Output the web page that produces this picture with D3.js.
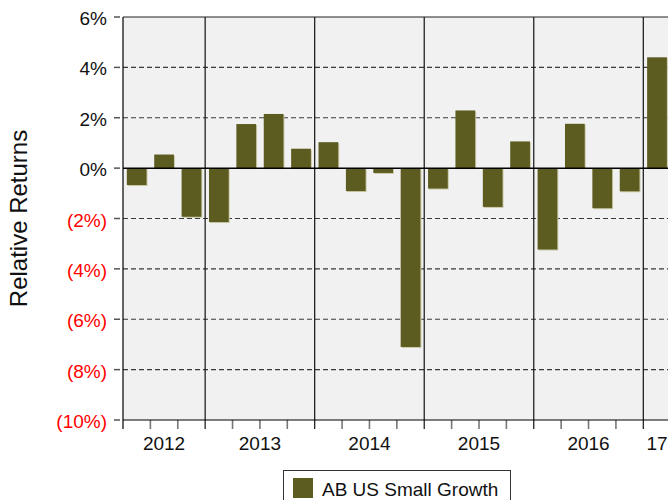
<!DOCTYPE html>
<html>
<head>
<meta charset="utf-8">
<script src="https://cdn.jsdelivr.net/npm/d3@7"></script>
<style>
  html, body { margin: 0; padding: 0; background: #fff; }
  svg { display: block; font-family: "Liberation Sans", Arial, sans-serif; }
</style>
</head>
<body>
<svg id="chart" width="668" height="500"></svg>
<script>
// Quarterly relative returns, AB US Small Growth
const quarters = [
  "2012 Q2", "2012 Q3", "2012 Q4",
  "2013 Q1", "2013 Q2", "2013 Q3", "2013 Q4",
  "2014 Q1", "2014 Q2", "2014 Q3", "2014 Q4",
  "2015 Q1", "2015 Q2", "2015 Q3", "2015 Q4",
  "2016 Q1", "2016 Q2", "2016 Q3", "2016 Q4",
  "2017 Q1"
];
const relativeReturns = [
  -0.67, 0.54, -1.93,
  -2.14, 1.75, 2.15, 0.77,
  1.03, -0.91, -0.19, -7.1,
  -0.81, 2.29, -1.54, 1.06,
  -3.23, 1.76, -1.59, -0.92,
  4.4
];
const years = ["2012", "2013", "2014", "2015", "2016", "2017"];
const yearLabels = ["2012", "2013", "2014", "2015", "2016", "17"];
const yTicks = [6, 4, 2, 0, -2, -4, -6, -8, -10];
const seriesName = "AB US Small Growth";

const barColor = "#5c5b20";
const svg = d3.select("#chart");

const plotLeft = 123, plotTop = 17, plotBottom = 420;
const step = (643.3 - plotLeft) / 19;
const plotRight = plotLeft + step * quarters.length;

const x = d3.scaleBand().domain(quarters).range([plotLeft, plotRight])
  .paddingInner(0.28).paddingOuter(0.14);
const y = d3.scaleLinear().domain([-10, 6]).range([plotBottom, plotTop]);

// plot background
svg.append("rect").attr("x", plotLeft).attr("y", plotTop)
  .attr("width", plotRight - plotLeft).attr("height", plotBottom - plotTop)
  .attr("fill", "#f1f1f1");

// dashed horizontal grid
svg.append("g").selectAll("line").data(yTicks.filter(d => d !== 0 && d !== 6 && d !== -10))
  .join("line")
  .attr("x1", plotLeft).attr("x2", plotRight)
  .attr("y1", d => y(d)).attr("y2", d => y(d))
  .attr("stroke", "#3a3a3a").attr("stroke-width", 1.2)
  .attr("stroke-dasharray", "5,3");

// year separators and ticks along the bottom
const yearStart = yr => x(quarters.find(q => q.startsWith(yr))) - x.step() * x.paddingInner() / 2;
const yearBounds = years.slice(1).map(yearStart);
svg.append("g").selectAll("line").data(yearBounds).join("line")
  .attr("x1", d => d).attr("x2", d => d)
  .attr("y1", plotTop).attr("y2", 429)
  .attr("stroke", "#111").attr("stroke-width", 1.2);

const quarterBounds = quarters.map(q => x(q) - x.step() * x.paddingInner() / 2)
  .filter(v => !yearBounds.some(b => Math.abs(b - v) < 1) && v > plotLeft + 1);
svg.append("g").selectAll("line").data(quarterBounds).join("line")
  .attr("x1", d => d).attr("x2", d => d)
  .attr("y1", plotBottom).attr("y2", 429)
  .attr("stroke", "#777").attr("stroke-width", 1.6);

// bar shadows and bars
const bars = svg.append("g");
bars.selectAll("rect.shadow").data(relativeReturns).join("rect")
  .attr("class", "shadow")
  .attr("x", (d, i) => x(quarters[i]) + 1)
  .attr("y", d => Math.min(y(d), y(0)) + 1)
  .attr("width", x.bandwidth())
  .attr("height", d => Math.abs(y(d) - y(0)))
  .attr("fill", "#c9c8a6");
bars.selectAll("rect.bar").data(relativeReturns).join("rect")
  .attr("class", "bar")
  .attr("x", (d, i) => x(quarters[i]))
  .attr("y", d => Math.min(y(d), y(0)))
  .attr("width", x.bandwidth())
  .attr("height", d => Math.abs(y(d) - y(0)))
  .attr("fill", barColor);

// zero line
svg.append("line").attr("x1", plotLeft).attr("x2", plotRight)
  .attr("y1", y(0)).attr("y2", y(0))
  .attr("stroke", "#000").attr("stroke-width", 1.5);

// plot frame: left, top, bottom
svg.append("line").attr("x1", plotLeft).attr("x2", plotLeft).attr("y1", plotTop).attr("y2", 429)
  .attr("stroke", "#000").attr("stroke-width", 1.2);
svg.append("line").attr("x1", plotLeft).attr("x2", plotRight).attr("y1", plotTop).attr("y2", plotTop)
  .attr("stroke", "#222").attr("stroke-width", 1.2);
svg.append("line").attr("x1", plotLeft).attr("x2", plotRight).attr("y1", plotBottom).attr("y2", plotBottom)
  .attr("stroke", "#000").attr("stroke-width", 1.2);

// y axis ticks and labels
const fmt = d => d < 0 ? `(${Math.abs(d)}%)` : `${d}%`;
const yAxis = svg.append("g");
yAxis.selectAll("line").data(yTicks).join("line")
  .attr("x1", 114).attr("x2", 120)
  .attr("y1", d => y(d)).attr("y2", d => y(d))
  .attr("stroke", "#555").attr("stroke-width", 1.5);
yAxis.selectAll("text").data(yTicks).join("text")
  .attr("x", 107).attr("y", d => y(d) + 8)
  .attr("text-anchor", "end")
  .attr("font-size", 19)
  .attr("fill", d => d < 0 ? "#ff0000" : "#111")
  .text(fmt);

// x axis year labels
svg.append("g").selectAll("text").data(years).join("text")
  .attr("x", yr => {
    const qs = quarters.filter(q => q.startsWith(yr));
    return (x(qs[0]) + x(qs[qs.length - 1]) + x.bandwidth()) / 2;
  })
  .attr("y", 450)
  .attr("text-anchor", "middle")
  .attr("font-size", 19)
  .attr("fill", "#111")
  .text((d, i) => yearLabels[i]);

// y axis title
svg.append("text")
  .attr("transform", `translate(27,${(plotTop + plotBottom) / 2}) rotate(-90)`)
  .attr("text-anchor", "middle")
  .attr("font-size", 24)
  .attr("fill", "#111")
  .text("Relative Returns");

// legend
const legend = svg.append("g");
legend.append("rect").attr("x", 283.5).attr("y", 470.5)
  .attr("width", 227).attr("height", 40)
  .attr("fill", "#fff").attr("stroke", "#333").attr("stroke-width", 1);
legend.append("rect").attr("x", 293).attr("y", 478)
  .attr("width", 20).attr("height", 20).attr("fill", barColor);
legend.append("text").attr("x", 322).attr("y", 496)
  .attr("font-size", 19).attr("fill", "#111")
  .text(seriesName);
</script>
</body>
</html>
